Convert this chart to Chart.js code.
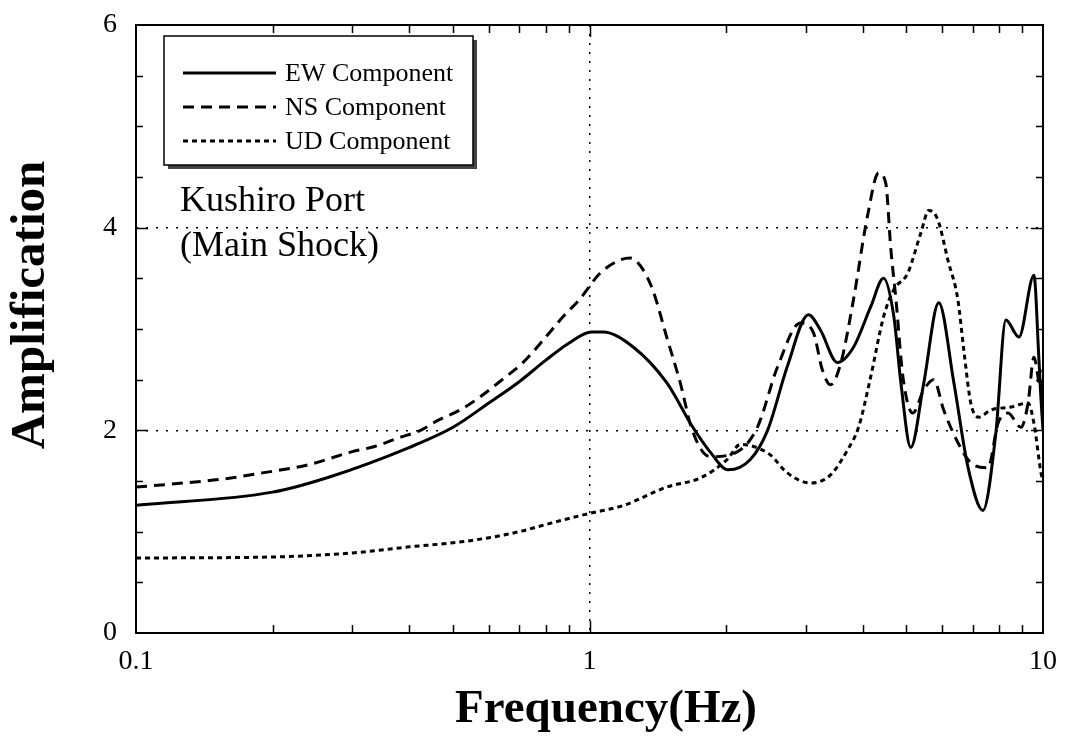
<!DOCTYPE html>
<html><head><meta charset="utf-8">
<script src="https://cdn.jsdelivr.net/npm/chart.js@4"></script>
<style>html,body{margin:0;padding:0;background:#fff;}#wrap{width:1066px;height:748px;}</style>
</head><body><div id="wrap"><canvas id="c" width="1066" height="748"></canvas></div>
<script>
// ---- data ----
const xTickLabels = [0.1, 1, 10];
const yTickLabels = [0, 2, 4, 6];
const seriesNames = ['EW Component', 'NS Component', 'UD Component'];
const annotationLines = ['Kushiro Port', '(Main Shock)'];
const xTitle = 'Frequency(Hz)';
const yTitle = 'Amplification';

const ewFreq = [0.1, 0.2, 0.267, 0.4, 0.5, 0.6, 0.7, 0.8, 0.9, 1.01, 1.07, 1.25, 1.48, 1.69, 1.85, 2.02, 2.26, 2.47, 2.73, 3.04, 3.23, 3.52, 3.82, 4.17, 4.45, 4.69, 4.86, 5.11, 5.46, 5.89, 6.36, 6.83, 7.37, 7.87, 8.28, 8.85, 9.55, 9.79, 9.9, 10];
const ewAmp  = [1.26, 1.39, 1.54, 1.83, 2.03, 2.27, 2.48, 2.69, 2.86, 2.97, 2.97, 2.82, 2.47, 2.03, 1.78, 1.61, 1.71, 2.0, 2.63, 3.14, 2.99, 2.67, 2.82, 3.22, 3.50, 3.12, 2.47, 1.83, 2.47, 3.26, 2.47, 1.64, 1.21, 1.97, 3.09, 2.92, 3.53, 2.72, 2.3, 2.0];

const nsFreq = [0.1, 0.127, 0.156, 0.19, 0.24, 0.3, 0.336, 0.376, 0.424, 0.464, 0.518, 0.574, 0.642, 0.714, 0.797, 0.874, 0.95, 1.055, 1.167, 1.23, 1.306, 1.38, 1.48, 1.585, 1.685, 1.846, 2.12, 2.345, 2.6, 2.92, 3.12, 3.26, 3.4, 3.58, 3.82, 4.1, 4.34, 4.5, 4.62, 4.74, 4.91, 5.16, 5.46, 5.74, 6.04, 6.49, 6.93, 7.56, 7.96, 8.37, 8.94, 9.27, 9.55, 9.9, 10];
const nsAmp  = [1.44, 1.48, 1.52, 1.58, 1.66, 1.79, 1.84, 1.92, 2.0, 2.10, 2.20, 2.33, 2.50, 2.67, 2.91, 3.12, 3.29, 3.55, 3.68, 3.70, 3.60, 3.38, 2.92, 2.47, 2.0, 1.74, 1.79, 2.03, 2.63, 3.06, 2.96, 2.60, 2.45, 2.66, 3.29, 4.11, 4.54, 4.44, 3.78, 3.29, 2.53, 2.17, 2.40, 2.50, 2.20, 1.88, 1.68, 1.63, 2.07, 2.17, 2.03, 2.27, 2.72, 2.40, 2.6];

const udFreq = [0.1, 0.2, 0.3, 0.4, 0.5, 0.6, 0.7, 0.8, 0.9, 1.0, 1.19, 1.48, 1.755, 2.01, 2.15, 2.3, 2.5, 2.73, 3.07, 3.4, 3.71, 3.92, 4.17, 4.45, 4.69, 5.03, 5.38, 5.6, 5.86, 6.17, 6.49, 6.69, 6.93, 7.22, 7.67, 8.5, 9.27, 9.55, 9.9, 10];
const udAmp  = [0.74, 0.75, 0.79, 0.85, 0.89, 0.94, 1.00, 1.07, 1.13, 1.18, 1.26, 1.44, 1.53, 1.71, 1.86, 1.84, 1.76, 1.58, 1.48, 1.56, 1.81, 2.03, 2.53, 3.12, 3.39, 3.55, 3.95, 4.17, 4.08, 3.68, 3.29, 2.79, 2.27, 2.13, 2.20, 2.23, 2.27, 2.07, 1.58, 1.5];

// ---- helpers ----
const SERIF = '"Liberation Serif", "DejaVu Serif", serif';
const toXY = (xs, ys) => xs.map((x, i) => ({x: x, y: ys[i]}));
const approx = (a, b) => Math.abs(a - b) < 1e-9 * Math.max(1, Math.abs(b));
const isIn = (v, list) => list.some(t => approx(v, t));

const framePlugin = {
  id: 'frameAndDecor',
  afterDatasetsDraw(chart) {
    const {ctx, chartArea: a, scales: {x, y}} = chart;
    ctx.save();
    // inward ticks on four sides
    ctx.strokeStyle = '#000';
    ctx.lineWidth = 1.5;
    ctx.beginPath();
    x.ticks.forEach(t => {
      const v = t.value;
      if (approx(v, x.min) || approx(v, x.max)) return;
      const px = Math.round(x.getPixelForValue(v)) + 0.5;
      const len = isIn(v, xTickLabels) ? 12 : 8;
      ctx.moveTo(px, a.bottom); ctx.lineTo(px, a.bottom - len);
      ctx.moveTo(px, a.top); ctx.lineTo(px, a.top + len);
    });
    y.ticks.forEach(t => {
      const v = t.value;
      if (approx(v, y.min) || approx(v, y.max)) return;
      const py = Math.round(y.getPixelForValue(v)) + 0.5;
      const len = isIn(v, yTickLabels) ? 12 : 7;
      ctx.moveTo(a.left, py); ctx.lineTo(a.left + len, py);
      ctx.moveTo(a.right, py); ctx.lineTo(a.right - len, py);
    });
    ctx.stroke();
    // frame
    ctx.lineWidth = 2;
    ctx.strokeRect(a.left, a.top, a.right - a.left, a.bottom - a.top);

    // legend box with shadow
    const bx = 164, by = 36, bw = 309, bh = 129;
    ctx.fillStyle = '#444';
    ctx.fillRect(bx + 4, by + 4, bw, bh);
    ctx.fillStyle = '#fff';
    ctx.fillRect(bx, by, bw, bh);
    ctx.lineWidth = 1.5;
    ctx.strokeStyle = '#000';
    ctx.strokeRect(bx, by, bw, bh);
    ctx.font = '26px ' + SERIF;
    ctx.textBaseline = 'middle';
    ctx.textAlign = 'left';
    ctx.fillStyle = '#000';
    chart.data.datasets.forEach((ds, i) => {
      const ly = by + 37 + i * 34;
      ctx.save();
      ctx.lineWidth = ds.borderWidth;
      ctx.setLineDash(ds.borderDash || []);
      ctx.beginPath();
      ctx.moveTo(bx + 19, ly); ctx.lineTo(bx + 112, ly);
      ctx.stroke();
      ctx.restore();
      ctx.fillText(ds.label, bx + 121, ly + 1);
    });

    // annotation
    ctx.font = '36px ' + SERIF;
    ctx.textBaseline = 'alphabetic';
    annotationLines.forEach((s, i) => ctx.fillText(s, 180, 211 + i * 45));

    // axis titles
    ctx.font = 'bold 47px ' + SERIF;
    ctx.textAlign = 'center';
    ctx.textBaseline = 'alphabetic';
    ctx.fillText(xTitle, 606, 722);
    ctx.save();
    ctx.translate(44, 305);
    ctx.rotate(-Math.PI / 2);
    ctx.font = 'bold 49px ' + SERIF;
    ctx.fillText(yTitle, 0, 0);
    ctx.restore();
    ctx.restore();
  }
};

const ctx = document.getElementById('c').getContext('2d');
new Chart(ctx, {
  type: 'line',
  data: {
    datasets: [
      {label: seriesNames[0], data: toXY(ewFreq, ewAmp), borderColor: '#000', borderWidth: 3, borderDash: [], pointRadius: 0, cubicInterpolationMode: 'monotone', fill: false},
      {label: seriesNames[1], data: toXY(nsFreq, nsAmp), borderColor: '#000', borderWidth: 3, borderDash: [11, 7], pointRadius: 0, cubicInterpolationMode: 'monotone', fill: false},
      {label: seriesNames[2], data: toXY(udFreq, udAmp), borderColor: '#000', borderWidth: 3, borderDash: [5, 4], pointRadius: 0, cubicInterpolationMode: 'monotone', fill: false}
    ]
  },
  options: {
    responsive: false,
    animation: false,
    devicePixelRatio: 1,
    layout: {padding: {left: 0, right: 23, top: 25, bottom: 0}},
    plugins: {legend: {display: false}, tooltip: {enabled: false}},
    scales: {
      x: {
        type: 'logarithmic', position: 'bottom', min: 0.1, max: 10,
        afterBuildTicks: (s) => {
          const vals = [];
          [0.1, 1].forEach(d => { for (let k = 1; k <= 9; k++) vals.push(Number((d * k).toPrecision(6))); });
          vals.push(10);
          s.ticks = vals.map(v => ({value: v}));
        },
        afterFit: (s) => { s.height = 115; s.paddingLeft = 0; s.paddingRight = 0; },
        ticks: {
          autoSkip: false, maxRotation: 0, minRotation: 0, padding: 12, color: '#000',
          font: {family: SERIF, size: 28},
          callback: (v) => isIn(v, xTickLabels) ? String(v) : ''
        },
        grid: {
          drawTicks: false, lineWidth: 1.5,
          color: (c) => (c.tick && approx(c.tick.value, 1)) ? '#000' : 'rgba(0,0,0,0)'
        },
        border: {display: false, dash: [2, 7]},
        title: {display: false}
      },
      y: {
        type: 'linear', min: 0, max: 6,
        afterFit: (s) => { s.width = 136; s.paddingTop = 0; s.paddingBottom = 0; },
        ticks: {
          stepSize: 0.5, autoSkip: false, padding: 19, color: '#000',
          font: {family: SERIF, size: 28},
          callback: (v) => isIn(v, yTickLabels) ? String(v) : ''
        },
        grid: {
          drawTicks: false, lineWidth: 1.5,
          color: (c) => (c.tick && (approx(c.tick.value, 2) || approx(c.tick.value, 4))) ? '#000' : 'rgba(0,0,0,0)'
        },
        border: {display: false, dash: [2, 8]},
        title: {display: false}
      }
    }
  },
  plugins: [framePlugin]
});
</script>
</body></html>
